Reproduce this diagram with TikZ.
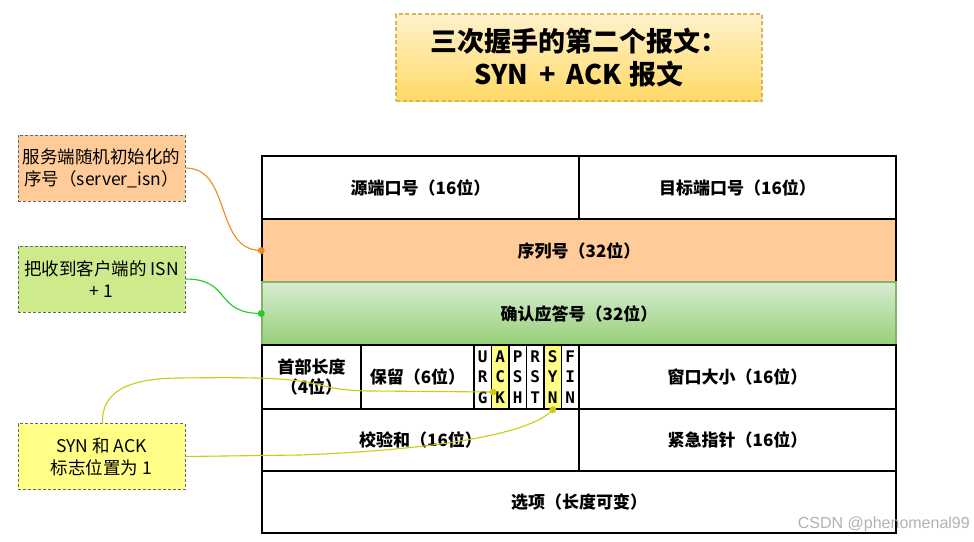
\documentclass[tikz,border=0pt]{standalone}
\usepackage{fontspec}
\setmainfont{Noto Sans CJK SC}
\newfontfamily\monof{DejaVu Sans Mono}
\newfontfamily\wmfont{Liberation Sans}
\definecolor{rowOrange}{HTML}{FFCC99}
\definecolor{noteOrange}{HTML}{FFCC99}
\definecolor{noteGreen}{HTML}{CDEB8B}
\definecolor{noteYellow}{HTML}{FFFF88}
\definecolor{lineOrange}{HTML}{EE8A22}
\definecolor{lineGreen}{HTML}{22CC22}
\definecolor{lineYellow}{HTML}{CCCC11}
\definecolor{titleTop}{HTML}{FFF2CC}
\definecolor{titleBot}{HTML}{FFD966}
\definecolor{titleLine}{HTML}{D6B656}
\definecolor{ackTop}{HTML}{D8ECD4}
\definecolor{ackBot}{HTML}{97D077}
\definecolor{ackLine}{HTML}{82B366}
\begin{document}
\begin{tikzpicture}[x=1pt,y=-1pt,
  cell/.style={draw=black, line width=1.5pt, inner sep=0pt, anchor=center,
    font=\bfseries\fontsize{17}{20.5}\selectfont, align=center},
  flagcell/.style={cell, minimum width=17.5pt, minimum height=64pt,
    font=\monof\fontsize{16}{20.5}\selectfont},
  note/.style={draw=black!60, dash pattern=on 3pt off 2pt, line width=1pt,
    minimum width=167pt, minimum height=66pt, align=center, inner sep=0pt,
    font=\fontsize{17.5}{22}\selectfont},
  conn/.style={line width=1.1pt},
  dotmark/.style={circle, inner sep=0pt, minimum size=7pt}
]
\useasboundingbox[fill=white] (0,0) rectangle (974,541);

% title
\node[draw=titleLine, dash pattern=on 4pt off 2.5pt, line width=1.5pt,
  top color=titleTop, bottom color=titleBot, minimum width=366pt, minimum height=87pt,
  inner sep=0pt, align=center, font=\bfseries\fontsize{27}{33}\selectfont] (title)
  at (579,57.5) {三次握手的第二个报文：\\SYN\hspace{0.4em}+\hspace{0.4em}ACK\hspace{0.3em}报文};

% table
\node[cell, minimum width=317pt, minimum height=63pt] (src) at (420.5,187.5) {源端口号（16位）};
\node[cell, minimum width=317pt, minimum height=63pt] (dst) at (737.5,187.5) {目标端口号（16位）};
\node[cell, fill=rowOrange, minimum width=634pt, minimum height=63pt] (seq) at (579,250.5) {序列号（32位）};
\node[cell, draw=ackLine, top color=ackTop, bottom color=ackBot, minimum width=634pt, minimum height=63pt] (ack) at (579,313.5) {确认应答号（32位）};
\node[cell, minimum width=99pt, minimum height=64pt] (hlen) at (311.5,377) {首部长度\\（4位）};
\node[cell, minimum width=113pt, minimum height=64pt] (resv) at (417.5,377) {保留（6位）};
\node[flagcell] (fU) at (482.75,377) {\bfseries U\\\bfseries R\\\bfseries G};
\node[flagcell, fill=noteYellow] (fA) at (500.25,377) {\bfseries A\\\bfseries C\\\bfseries K};
\node[flagcell] (fP) at (517.75,377) {\bfseries P\\\bfseries S\\\bfseries H};
\node[flagcell] (fR) at (535.25,377) {\bfseries R\\\bfseries S\\\bfseries T};
\node[flagcell, fill=noteYellow] (fS) at (552.75,377) {\bfseries S\\\bfseries Y\\\bfseries N};
\node[flagcell] (fF) at (570.25,377) {\bfseries F\\\bfseries I\\\bfseries N};
\node[cell, minimum width=317pt, minimum height=64pt] (win) at (737.5,377) {窗口大小（16位）};
\node[cell, minimum width=317pt, minimum height=62pt] (chk) at (420.5,440) {校验和（16位）};
\node[cell, minimum width=317pt, minimum height=62pt] (urg) at (737.5,440) {紧急指针（16位）};
\node[cell, minimum width=634pt, minimum height=62pt] (opt) at (579,502) {选项（长度可变）};

% notes
\node[note, fill=noteOrange] (nSeq) at (101.5,168) {服务端随机初始化的\\序号（server\_isn）};
\node[note, fill=noteGreen] (nAck) at (101.5,279) {把收到客户端的 ISN\\+ 1};
\node[note, fill=noteYellow] (nFlag) at (101.5,456.5) {SYN 和 ACK\\标志位置为 1};

% connector end points
\coordinate (seqEnd) at (seq.west);
\coordinate (ackEnd) at (ack.west);
\coordinate (ackBit) at (493,392);
\coordinate (synBit) at (fS.south);
\coordinate (flagTop) at (102.5,423.5);

\draw[conn, lineOrange] (nSeq.east) .. controls (232,168) and (214,250.5) .. (seqEnd);
\draw[conn, lineGreen] (nAck.east) .. controls (232,279) and (214,313.5) .. (ackEnd);
\draw[conn, lineYellow] (flagTop) .. controls (101,392) and (128,378) .. (180,378)
  .. controls (262,377) and (292,378) .. (320,385)
  .. controls (335,389) and (352,391) .. (372,391) -- (ackBit);
\draw[conn, lineYellow] (nFlag.east) -- (300,455) .. controls (430,450) and (530,435) .. (synBit);

\node[dotmark, fill=lineOrange] at (seqEnd) {};
\node[dotmark, fill=lineGreen] at (ackEnd) {};
\node[dotmark, fill=lineYellow] at (ackBit) {};
\node[dotmark, fill=lineYellow] at (synBit) {};

% watermark
\node[anchor=east, text=black!30, font=\wmfont\fontsize{16}{18}\selectfont, inner sep=0pt] (wm) at (970,524) {CSDN @phenomenal99};
\end{tikzpicture}
\end{document}
